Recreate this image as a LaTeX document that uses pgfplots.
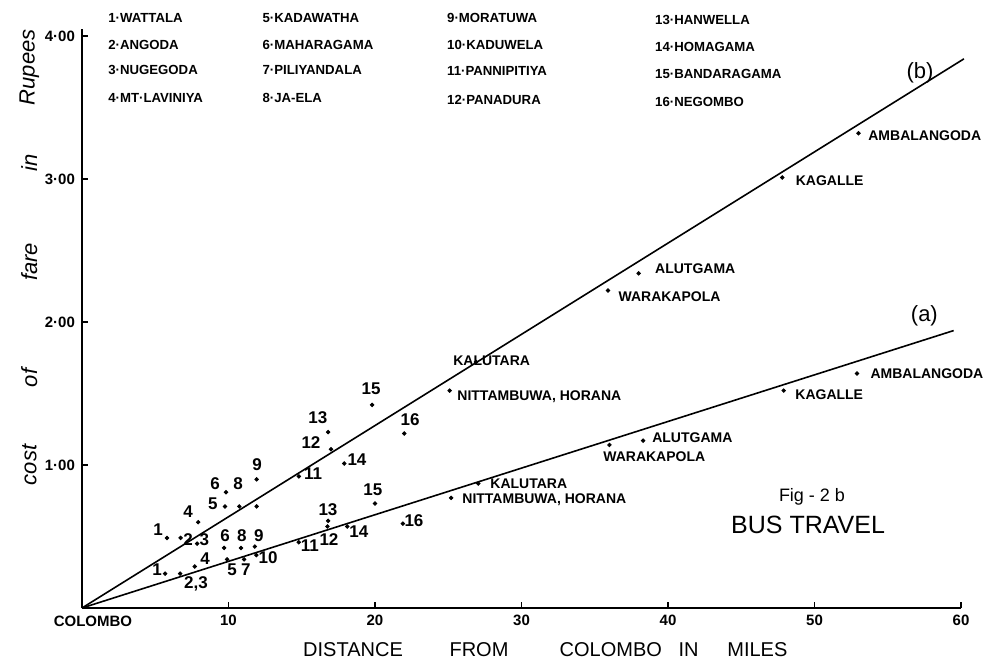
\documentclass[border=0pt]{standalone}
\usepackage{pgfplots}
\pgfplotsset{compat=1.18}
\usepackage{fontspec}
\setmainfont{Liberation Sans}
\begin{document}
\begin{tikzpicture}
\begin{axis}[
  at={(0,0)}, anchor=south west,
  scale only axis, width=439.5pt, height=289.6pt,
  xmin=0, xmax=60, ymin=0, ymax=4.05,
  axis x line=bottom, axis y line=left,
  axis line style={-, line width=1pt},
  xtick={10,20,30,40,50,60},
  xticklabels={10,20,30,40,50,60},
  ytick={1,2,3,4},
  yticklabels={1·00,2·00,3·00,4·00},
  tick align=inside, major tick length=3pt,
  tick style={black, line width=0.6pt},
  ticklabel style={font=\fontsize{7.5}{9}\selectfont\bfseries},
  clip=false,
]
% fitted lines
\addplot[black, line width=0.8pt] coordinates {(0,0) (60.2,3.84)};
\addplot[black, line width=0.8pt] coordinates {(0,0) (59.5,1.94)};
% (b) upper series
\addplot[only marks, mark=*, mark size=0.9pt, black] table {
x y
5.8 0.49
6.73 0.49
7.86 0.45
7.93 0.60
9.76 0.71
9.83 0.81
10.74 0.71
11.92 0.90
11.92 0.71
14.8 0.92
17.0 1.11
16.8 1.23
17.9 1.01
19.8 1.42
22.0 1.22
25.1 1.52
26.9 1.72
35.9 2.22
38.0 2.34
47.8 3.01
53.0 3.32
};
% (a) lower series
\addplot[only marks, mark=*, mark size=0.9pt, black] table {
x y
5.67 0.24
6.7 0.24
7.7 0.29
9.9 0.34
11.06 0.34
9.7 0.42
10.85 0.42
11.8 0.43
11.9 0.37
14.8 0.46
16.75 0.57
16.8 0.61
18.1 0.57
20.0 0.73
21.9 0.59
25.2 0.77
27.05 0.87
36.0 1.14
38.3 1.17
47.9 1.52
52.9 1.64
};
\tikzset{num/.style={font=\fontsize{8.5}{9}\selectfont\bfseries, inner sep=0pt},
         lab/.style={font=\fontsize{7}{8}\selectfont\bfseries, inner sep=0pt, anchor=west},
         leg/.style={font=\fontsize{6.6}{8}\selectfont\bfseries, inner sep=0pt, anchor=west}}
% number labels upper
\node[num] at (axis cs:5.19,0.545) {1};
\node[num] at (axis cs:7.24,0.476) {2};
\node[num] at (axis cs:8.36,0.476) {3};
\node[num] at (axis cs:7.24,0.671) {4};
\node[num] at (axis cs:8.94,0.727) {5};
\node[num] at (axis cs:9.08,0.867) {6};
\node[num] at (axis cs:10.65,0.867) {8};
\node[num] at (axis cs:11.95,1.0) {9};
\node[num] at (axis cs:15.77,0.937) {11};
\node[num] at (axis cs:15.63,1.16) {12};
\node[num] at (axis cs:16.1,1.33) {13};
\node[num] at (axis cs:18.77,1.035) {14};
\node[num] at (axis cs:19.73,1.53) {15};
\node[num] at (axis cs:22.39,1.315) {16};
\node[lab] at (axis cs:25.32,1.727) {KALUTARA};
\node[lab] at (axis cs:25.6,1.476) {NITTAMBUWA, HORANA};
\node[lab] at (axis cs:39.1,2.37) {ALUTGAMA};
\node[lab] at (axis cs:36.6,2.18) {WARAKAPOLA};
\node[lab] at (axis cs:48.7,2.99) {KAGALLE};
\node[lab] at (axis cs:53.65,3.30) {AMBALANGODA};
% number labels lower
\node[num] at (axis cs:5.12,0.266) {1};
\node[num] at (axis cs:7.78,0.168) {2,3};
\node[num] at (axis cs:8.4,0.343) {4};
\node[num] at (axis cs:10.24,0.266) {5};
\node[num] at (axis cs:11.19,0.266) {7};
\node[num] at (axis cs:9.76,0.503) {6};
\node[num] at (axis cs:10.92,0.503) {8};
\node[num] at (axis cs:12.08,0.503) {9};
\node[num] at (axis cs:12.7,0.35) {10};
\node[num] at (axis cs:15.56,0.434) {11};
\node[num] at (axis cs:16.86,0.476) {12};
\node[num] at (axis cs:16.79,0.685) {13};
\node[num] at (axis cs:18.9,0.531) {14};
\node[num] at (axis cs:19.86,0.825) {15};
\node[num] at (axis cs:22.66,0.608) {16};
\node[lab] at (axis cs:27.85,0.867) {KALUTARA};
\node[lab] at (axis cs:25.94,0.755) {NITTAMBUWA, HORANA};
\node[lab] at (axis cs:38.9,1.19) {ALUTGAMA};
\node[lab] at (axis cs:35.56,1.056) {WARAKAPOLA};
\node[lab] at (axis cs:48.67,1.49) {KAGALLE};
\node[lab] at (axis cs:53.8,1.64) {AMBALANGODA};
% line tags and title
\node[font=\fontsize{11}{12}\selectfont] at (axis cs:57.2,3.74) {(b)};
\node[font=\fontsize{11}{12}\selectfont] at (axis cs:57.5,2.04) {(a)};
\node[font=\fontsize{9}{10}\selectfont] at (axis cs:49.83,0.776) {Fig - 2 b};
\node[font=\fontsize{12.5}{14}\selectfont] at (axis cs:49.56,0.58) {BUS TRAVEL};
% key
\node[leg] at (axis cs:1.77,4.126) {1·WATTALA};
\node[leg] at (axis cs:1.77,3.937) {2·ANGODA};
\node[leg] at (axis cs:1.77,3.762) {3·NUGEGODA};
\node[leg] at (axis cs:1.77,3.566) {4·MT·LAVINIYA};
\node[leg] at (axis cs:12.3,4.126) {5·KADAWATHA};
\node[leg] at (axis cs:12.3,3.937) {6·MAHARAGAMA};
\node[leg] at (axis cs:12.3,3.762) {7·PILIYANDALA};
\node[leg] at (axis cs:12.3,3.566) {8·JA-ELA};
\node[leg] at (axis cs:24.9,4.126) {9·MORATUWA};
\node[leg] at (axis cs:24.9,3.937) {10·KADUWELA};
\node[leg] at (axis cs:24.9,3.752) {11·PANNIPITIYA};
\node[leg] at (axis cs:24.9,3.552) {12·PANADURA};
\node[leg] at (axis cs:39.1,4.112) {13·HANWELLA};
\node[leg] at (axis cs:39.1,3.923) {14·HOMAGAMA};
\node[leg] at (axis cs:39.1,3.734) {15·BANDARAGAMA};
\node[leg] at (axis cs:39.1,3.538) {16·NEGOMBO};
% axis texts
\node[font=\fontsize{7.5}{9}\selectfont\bfseries, inner sep=0pt] at (axis cs:0.75,-0.09) {COLOMBO};
\tikzset{xl/.style={font=\fontsize{10}{12}\selectfont, inner sep=0pt}}
\node[xl] at (axis cs:18.5,-0.29) {DISTANCE};
\node[xl] at (axis cs:27.1,-0.29) {FROM};
\node[xl] at (axis cs:36.1,-0.29) {COLOMBO};
\node[xl] at (axis cs:41.4,-0.29) {IN};
\node[xl] at (axis cs:46.1,-0.29) {MILES};
\tikzset{yl/.style={font=\fontsize{11}{12}\selectfont\itshape, inner sep=0pt, rotate=90}}
\node[yl] at (axis cs:-3.6,1.0) {cost};
\node[yl] at (axis cs:-3.6,1.608) {of};
\node[yl] at (axis cs:-3.6,2.42) {fare};
\node[yl] at (axis cs:-3.6,3.11) {in};
\node[yl] at (axis cs:-3.6,3.78) {Rupees};
\end{axis}
\pgfresetboundingbox
\path[use as bounding box] (-41pt,-28.5pt) rectangle (462.5pt,304pt);
\end{tikzpicture}
\end{document}
